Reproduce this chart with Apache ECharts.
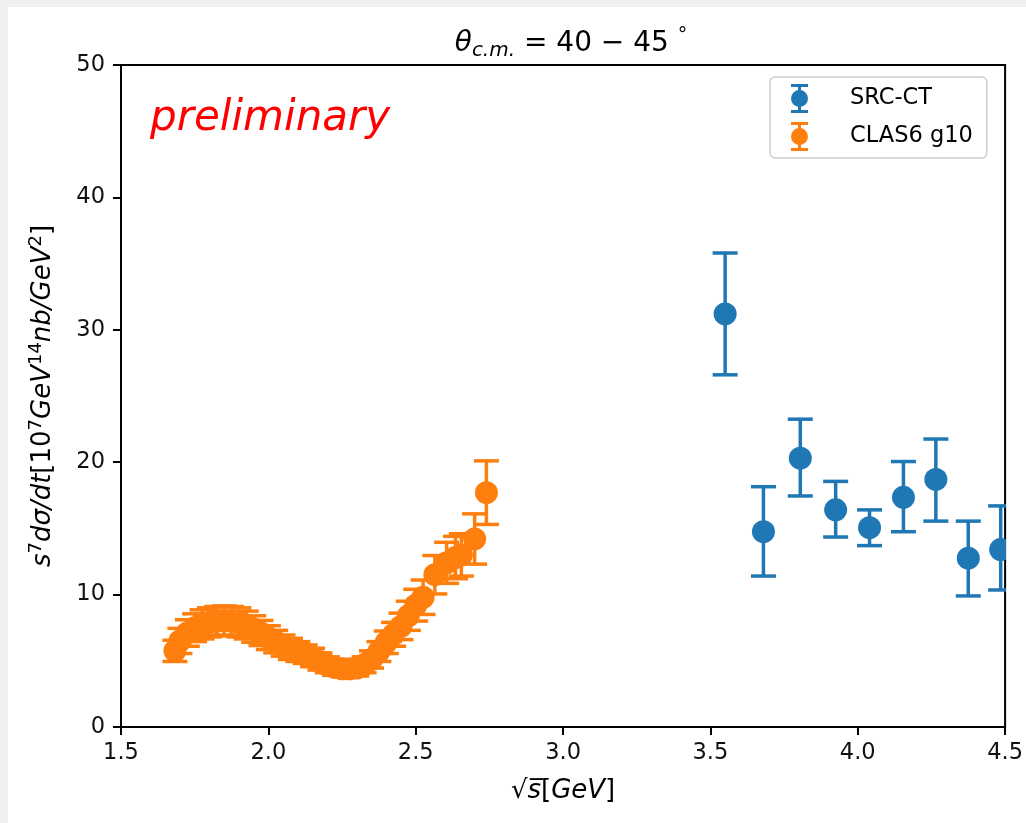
<!DOCTYPE html>
<html><head><meta charset="utf-8">
<script src="https://cdn.jsdelivr.net/npm/echarts@6/dist/echarts.min.js"></script>
<style>
html,body{margin:0;padding:0;background:#efefef;width:1026px;height:823px;overflow:hidden}
#paper{position:absolute;left:8px;top:7px;right:0;bottom:0;background:#fff}
#chart{position:absolute;left:0;top:0;width:1026px;height:823px}
</style></head><body>
<div id="paper"></div><div id="chart"></div>
<script>
// SRC-CT data
const srcX  = [3.55, 3.68, 3.805, 3.925, 4.04, 4.155, 4.265, 4.375, 4.485];
const srcY  = [31.2, 14.75, 20.3, 16.4, 15.05, 17.35, 18.7, 12.75, 13.4];
const srcLo = [26.6, 11.4, 17.45, 14.35, 13.7, 14.75, 15.55, 9.9, 10.35];
const srcHi = [35.8, 18.15, 23.25, 18.55, 16.4, 20.05, 21.75, 15.55, 16.7];

// CLAS6 g10 data
const clasX = [1.683,1.70,1.725,1.75,1.775,1.80,1.825,1.85,1.875,1.90,1.925,1.95,1.975,2.00,2.025,2.05,2.075,2.10,2.125,2.15,2.175,2.20,2.225,2.25,2.275,2.30,2.325,2.35,2.375,2.40,2.425,2.45,2.475,2.50,2.525,2.565,2.605,2.635,2.655,2.70,2.74];
const clasY = [5.75,6.5,7.1,7.5,7.75,7.9,8.0,8.05,8.0,7.9,7.7,7.4,7.1,6.75,6.45,6.15,5.9,5.7,5.5,5.25,4.95,4.7,4.5,4.4,4.4,4.45,4.7,5.1,5.7,6.4,7.0,7.6,8.4,9.2,9.8,11.5,12.4,12.8,13.0,14.2,17.7];
const clasErr = [0.8,0.95,1.0,1.05,1.1,1.1,1.1,1.1,1.1,1.1,1.05,1.0,0.95,0.9,0.85,0.8,0.8,0.75,0.7,0.7,0.65,0.6,0.6,0.55,0.55,0.6,0.6,0.65,0.75,0.85,0.9,1.0,1.1,1.2,1.3,1.45,1.55,1.6,1.6,1.9,2.4];

// axis ticks
const xTicks = {min: 1.5, max: 4.5, interval: 0.5};
const yTicks = {min: 0, max: 50, interval: 10};

const FONT = 'DejaVu Sans';
const BLUE = '#1f77b4', ORANGE = '#ff7f0e';

const srcData = srcX.map((x, i) => [x, srcY[i], srcLo[i], srcHi[i]]);
const clasData = clasX.map((x, i) => [x, clasY[i], clasY[i] - clasErr[i], clasY[i] + clasErr[i]]);

function renderErr(params, api) {
  const x = api.value(0), y = api.value(1), lo = api.value(2), hi = api.value(3);
  const c = api.coord([x, y]), t = api.coord([x, hi]), b = api.coord([x, lo]);
  const color = api.visual('color');
  const cw = 12.5;
  const ls = {stroke: color, lineWidth: 3.5};
  return {type: 'group', children: [
    {type: 'line', shape: {x1: c[0], y1: t[1], x2: c[0], y2: b[1]}, style: ls, z2: 1},
    {type: 'line', shape: {x1: c[0] - cw, y1: t[1], x2: c[0] + cw, y2: t[1]}, style: ls, z2: 1},
    {type: 'line', shape: {x1: c[0] - cw, y1: b[1], x2: c[0] + cw, y2: b[1]}, style: ls, z2: 1},
    {type: 'circle', shape: {cx: c[0], cy: c[1], r: 11.5}, style: {fill: color}, z2: 10}
  ]};
}

const ICON = 'path://M0,0H17V3H0Z M0,26H17V29H0Z M7,0H10V29H7Z M17,14.5A8.5,8.5 0 1,1 0,14.5A8.5,8.5 0 1,1 17,14.5Z';

const chart = echarts.init(document.getElementById('chart'), null, {renderer: 'canvas'});
chart.setOption({
  animation: false,
  backgroundColor: 'transparent',
  textStyle: {fontFamily: FONT},
  title: {
    text: '{i|θ}{sub|c.m.}{n| = 40 − 45 }{sup|°}',
    left: 566, top: 22, textAlign: 'center',
    textStyle: {
      fontWeight: 'normal',
      rich: {
        i: {fontFamily: FONT, fontStyle: 'italic', fontWeight: 'normal', fontSize: 28, lineHeight: 34, color: '#000'},
        sub: {fontFamily: FONT, fontStyle: 'italic', fontWeight: 'normal', fontSize: 20, lineHeight: 20, verticalAlign: 'bottom', color: '#000'},
        n: {fontFamily: FONT, fontWeight: 'normal', fontSize: 28, lineHeight: 34, color: '#000'},
        sup: {fontFamily: FONT, fontWeight: 'normal', fontSize: 19, lineHeight: 19, verticalAlign: 'top', color: '#000'}
      }
    }
  },
  grid: {left: 121, top: 65, right: 13, bottom: 96, show: true, borderColor: '#000', borderWidth: 2, backgroundColor: 'transparent'},
  legend: {
    orient: 'vertical', left: 770, top: 77,
    padding: [7, 14, 7, 21],
    itemWidth: 17, itemHeight: 29, itemGap: 9,
    backgroundColor: 'rgba(255,255,255,0.8)', borderColor: '#cccccc', borderWidth: 1.5, borderRadius: 5,
    textStyle: {fontFamily: FONT, fontSize: 22.5, color: '#000', padding: [0, 0, 0, 37]},
    data: [{name: 'SRC-CT', icon: ICON}, {name: 'CLAS6 g10', icon: ICON}]
  },
  xAxis: {
    type: 'value', min: xTicks.min, max: xTicks.max, interval: xTicks.interval,
    name: '{n|√}{i|s\u0305}{n|[}{i|GeV}{n|]}', nameLocation: 'middle', nameGap: 51,
    nameTextStyle: {rich: {
      n: {fontFamily: FONT, fontSize: 26, color: '#000'},
      i: {fontFamily: FONT, fontSize: 26, fontStyle: 'italic', color: '#000'}
    }},
    axisLine: {show: true, onZero: false, lineStyle: {color: '#000', width: 2}},
    axisTick: {show: true, inside: false, length: 8, lineStyle: {color: '#000', width: 2}},
    axisLabel: {fontFamily: FONT, fontSize: 22.5, color: '#111', margin: 15, formatter: v => v.toFixed(1)},
    splitLine: {show: false}
  },
  yAxis: {
    type: 'value', min: yTicks.min, max: yTicks.max, interval: yTicks.interval,
    name: '{i|s}{sup|7}{i|dσ/dt}{n|[10}{sup|7}{i|GeV}{sup|14}{i|nb/GeV}{sup|2}{n|]}',
    nameLocation: 'middle', nameGap: 62, nameRotate: 90,
    nameTextStyle: {rich: {
      n: {fontFamily: FONT, fontSize: 26, lineHeight: 32, color: '#000'},
      i: {fontFamily: FONT, fontSize: 26, fontStyle: 'italic', lineHeight: 32, color: '#000'},
      sup: {fontFamily: FONT, fontSize: 18, lineHeight: 18, verticalAlign: 'top', color: '#000'}
    }},
    axisLine: {show: true, onZero: false, lineStyle: {color: '#000', width: 2}},
    axisTick: {show: true, inside: false, length: 8, lineStyle: {color: '#000', width: 2}},
    axisLabel: {fontFamily: FONT, fontSize: 22.5, color: '#111', margin: 16},
    splitLine: {show: false}
  },
  graphic: [{
    type: 'text', left: 150, top: 98, z: 100,
    style: {text: 'preliminary', fill: '#ff0000', font: 'italic 42px "DejaVu Sans"'}
  }],
  series: [
    {name: 'SRC-CT', type: 'custom', renderItem: renderErr, data: srcData, clip: true,
     encode: {x: 0, y: 1}, itemStyle: {color: BLUE}, z: 3},
    {name: 'CLAS6 g10', type: 'custom', renderItem: renderErr, data: clasData, clip: true,
     encode: {x: 0, y: 1}, itemStyle: {color: ORANGE}, z: 4}
  ]
});
</script></body></html>
